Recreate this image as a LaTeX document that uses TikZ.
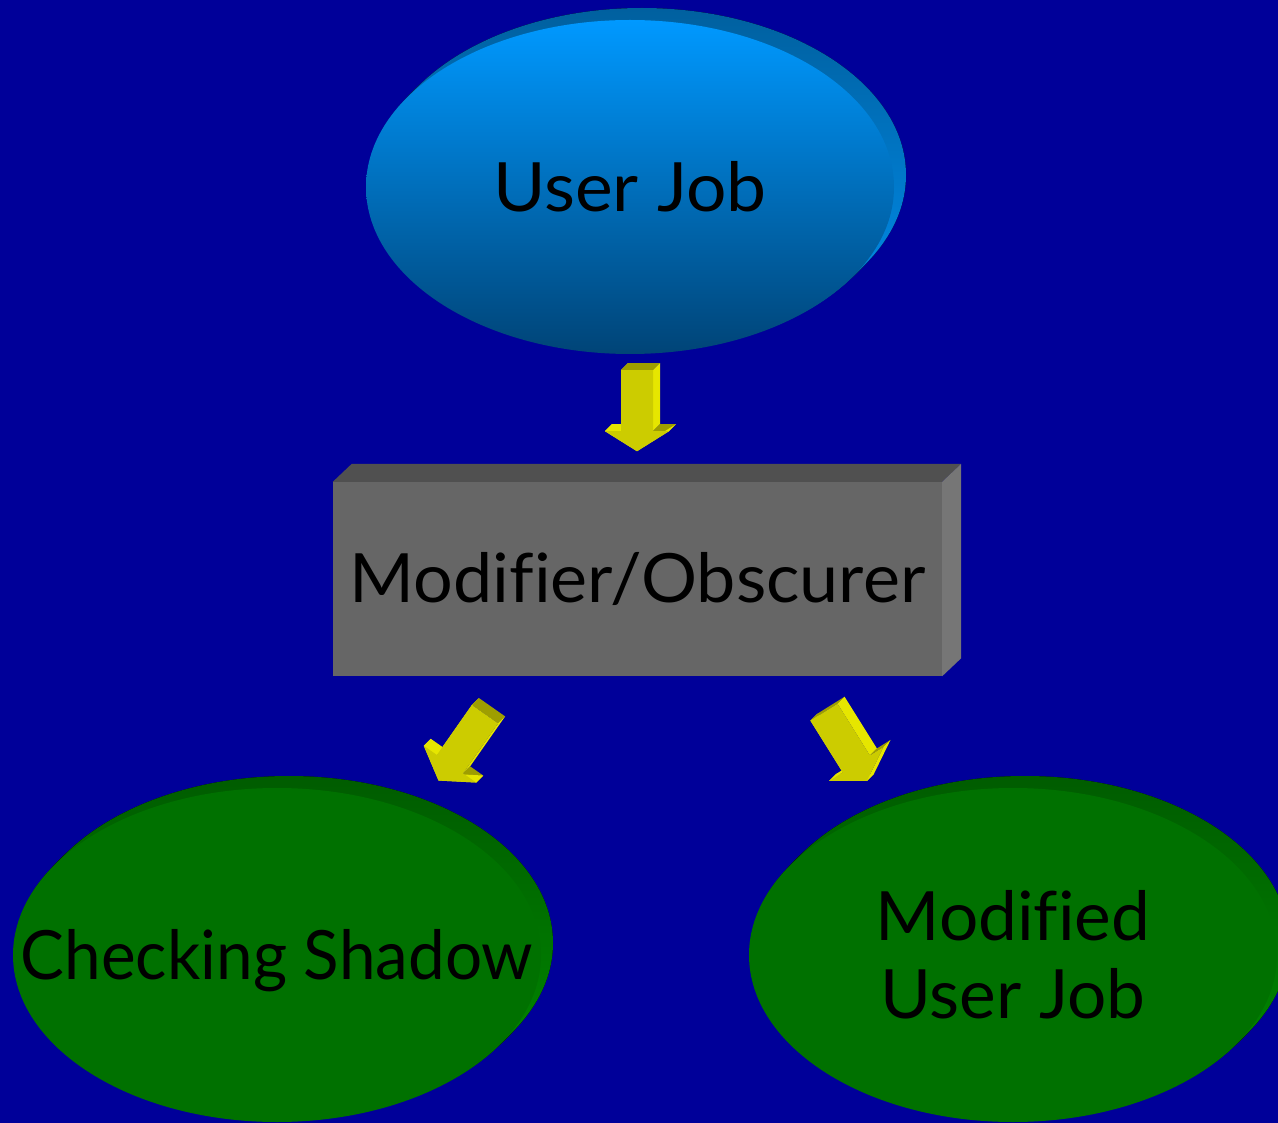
\documentclass[tikz,border=0pt]{standalone}
\usepackage{fontspec}
\setmainfont{Lato}[Ligatures={NoCommon}]
\usetikzlibrary{shapes.geometric,calc}
\pgfdeclarelayer{bg}
\pgfdeclarelayer{depth}
\pgfsetlayers{bg,depth,main}

\definecolor{pagebg}{HTML}{000099}
\definecolor{jobtop}{HTML}{0099FF}
\definecolor{jobbot}{HTML}{004477}
\definecolor{jobrimtop}{HTML}{00609F}
\definecolor{jobrimbot}{HTML}{0090F2}
\definecolor{leaf}{HTML}{007100}
\definecolor{leafrimtop}{HTML}{005C00}
\definecolor{leafrimbot}{HTML}{008C00}
\definecolor{boxfront}{HTML}{666666}
\definecolor{boxtop}{HTML}{505050}
\definecolor{boxside}{HTML}{767676}
\definecolor{arrfront}{HTML}{CCCC00}
\definecolor{arrtop}{HTML}{9E9E00}
\definecolor{arrside}{HTML}{E6E600}

% label that does not widen its oval
\newcommand\fixedlabel[2][1]{\makebox[0pt]{\raisebox{-9pt}[\height][\depth]{\scalebox{#1}[1]{%
  \begin{tabular}{@{}c@{}}#2\end{tabular}}}}}

\tikzset{
  label font/.style={font=\fontsize{68}{78}\selectfont, text=black},
  oval/.style={ellipse, minimum width=528pt, minimum height=334pt, inner sep=0pt, label font},
  slab/.style={rectangle, minimum width=609pt, minimum height=194pt, inner sep=0pt,
               fill=boxfront, label font},
  % corner points of a block arrow pointing along local +y (screen down)
  pics/arrowpts/.style={code={
    \coordinate (-1) at (-16,0);
    \coordinate (-2) at (16,0);
    \coordinate (-3) at (16,61);
    \coordinate (-4) at (32,61);
    \coordinate (-5) at (0,81);
    \coordinate (-6) at (-32,61);
    \coordinate (-7) at (-16,61);
  }}
}

% extruded block arrow through the points of an arrowpts pic
\newcommand\blockarrow[1]{%
  \foreach \i/\j/\c in {5/6/arrside,6/7/arrside,7/1/arrside,1/2/arrtop,
                        2/3/arrside,3/4/arrtop,4/5/arrside}
    \fill[\c] (#1-\i) -- (#1-\j) -- ($(#1-\j)+(7,-7)$) -- ($(#1-\i)+(7,-7)$) -- cycle;
  \fill[arrfront] (#1-1) -- (#1-2) -- (#1-3) -- (#1-4) -- (#1-5) -- (#1-6) -- (#1-7) -- cycle;
}

\begin{document}
\begin{tikzpicture}[x=1pt,y=-1pt]
\begin{pgfonlayer}{bg}
  \fill[pagebg] (0,0) rectangle (1278,1123);
\end{pgfonlayer}
\useasboundingbox (0,0) rectangle (1278,1123);

% nodes
\node[oval, top color=jobtop, bottom color=jobbot] (user) at (630,187) {\fixedlabel[1.05]{User Job}};
\node[slab] (mod) at (637.5,579) {\scalebox{1.03}[1]{Modifier/Obscurer}};
\node[oval, fill=leaf] (shadow) at (277,955) {\fixedlabel[0.965]{Checking Shadow}};
\node[oval, fill=leaf] (modjob) at (1013,955) {\fixedlabel[1.02]{Modified\\User Job}};

% depth of the ovals and the slab
\begin{pgfonlayer}{depth}
  \foreach \k in {1,...,12}
    \fill[top color=jobrimtop, bottom color=jobrimbot]
      ($(user.center)+(\k,-\k)$) ellipse [x radius=264, y radius=167];
  \foreach \n in {shadow,modjob}
    \foreach \k in {1,...,12}
      \fill[top color=leafrimtop, bottom color=leafrimbot]
        ($(\n.center)+(\k,-\k)$) ellipse [x radius=264, y radius=167];
  \fill[boxtop] (mod.north west) -- ++(19,-18) -- ($(mod.north east)+(19,-18)$)
    -- (mod.north east) -- cycle;
  \fill[boxside] (mod.north east) -- ++(19,-18) -- ($(mod.south east)+(19,-18)$)
    -- (mod.south east) -- cycle;
\end{pgfonlayer}

% block arrows between the nodes
\pic (da) at ($(user.south)+(7,16)$) {arrowpts};
\pic[rotate=-35] (la) at ($(mod.south)+(-152.5,38)$) {arrowpts};
\pic[rotate=32] (ra) at ($(mod.south)+(186.5,36)$) {arrowpts};
\blockarrow{da}
\blockarrow{la}
\blockarrow{ra}
\end{tikzpicture}
\end{document}
